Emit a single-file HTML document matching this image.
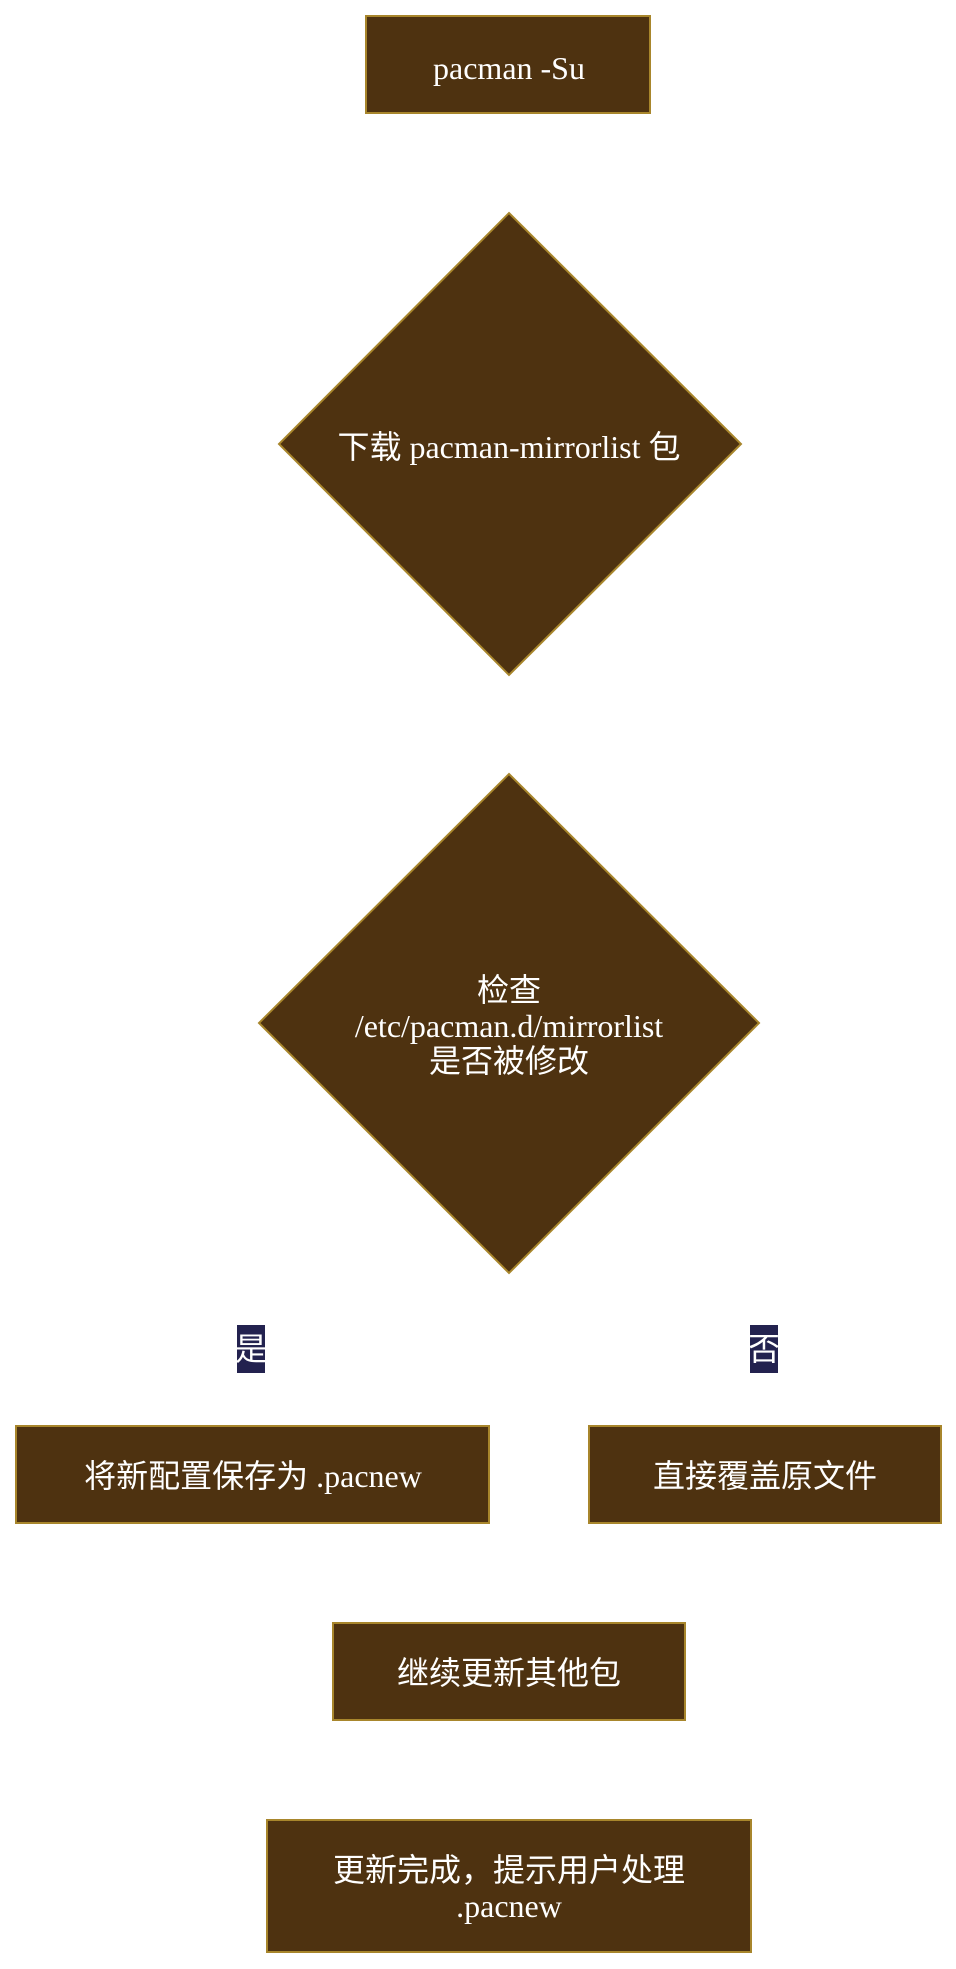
<!DOCTYPE html>
<html><head><meta charset="utf-8"><style>
html,body{margin:0;padding:0;background:#fff;}
svg text{font-family:"Liberation Serif","Noto Sans CJK SC",serif;font-size:32px;fill:#fff;text-anchor:middle;dominant-baseline:central;}
</style></head><body>
<svg width="956" height="1964" viewBox="0 0 956 1964" xmlns="http://www.w3.org/2000/svg">
<g fill="#4e3210" stroke="#a8862c" stroke-width="2">
<rect x="366" y="16" width="284" height="97"/>
<polygon points="509,213 741,444 509,675 279,444"/>
<polygon points="509,774 759,1023 509,1273 259,1023"/>
<rect x="16" y="1426" width="473" height="97"/>
<rect x="589" y="1426" width="352" height="97"/>
<rect x="333" y="1623" width="352" height="97"/>
<rect x="267" y="1820" width="484" height="132"/>
</g>
<rect x="237" y="1325" width="28" height="48" fill="#23224f"/>
<rect x="750" y="1325" width="28" height="48" fill="#23224f"/>
<text x="251" y="1349">是</text>
<text x="764" y="1349">否</text>
<text x="509" y="68">pacman -Su</text>
<text x="509" y="447">下载 pacman-mirrorlist 包</text>
<text x="509" y="990">检查</text>
<text x="509" y="1026">/etc/pacman.d/mirrorlist</text>
<text x="509" y="1061">是否被修改</text>
<text x="253" y="1476">将新配置保存为 .pacnew</text>
<text x="765" y="1476">直接覆盖原文件</text>
<text x="509" y="1673">继续更新其他包</text>
<text x="509" y="1870">更新完成，提示用户处理</text>
<text x="509" y="1906">.pacnew</text>
</svg>
</body></html>
